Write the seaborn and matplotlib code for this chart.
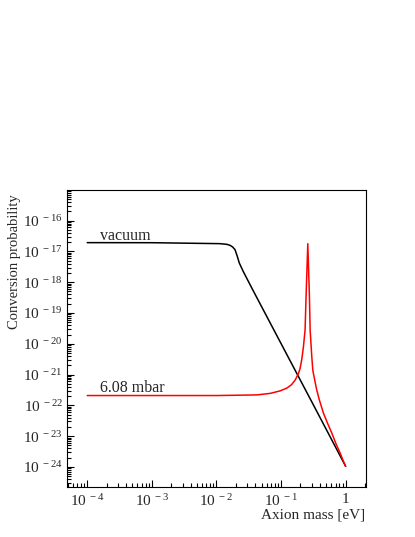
import numpy as np
import pandas as pd
import matplotlib
matplotlib.use("Agg")
import matplotlib.pyplot as plt
import matplotlib.ticker as mticker
import seaborn as sns

# ---- data ----
vac_mass = [1e-4, 1e-3, 0.0113, 0.0145, 0.0162, 0.0178, 0.0194, 0.021, 0.0226, 0.026,
            0.0351, 0.1, 0.3, 1.0]
vac_prob = [1.93e-17, 1.92e-17, 1.79e-17, 1.70e-17, 1.58e-17, 1.40e-17, 1.14e-17,
            7.0e-18, 4.2e-18, 2.24e-18, 6.6e-19, 1.02e-20, 1.29e-22, 1.05e-24]

gas_mass = [1e-4, 1e-3, 0.01, 0.042, 0.0675, 0.0964, 0.1225, 0.145, 0.165, 0.185,
            0.197, 0.2095, 0.222, 0.2355, 0.244, 0.2595, 0.275, 0.282, 0.299, 0.31,
            0.32, 0.328, 0.34, 0.357, 0.39, 0.453, 0.53, 0.611, 0.71, 0.822, 0.9, 1.0]
gas_prob = [2.09e-22, 2.09e-22, 2.09e-22, 2.19e-22, 2.45e-22, 2.95e-22, 3.63e-22,
            4.68e-22, 6.61e-22, 1.05e-21, 1.58e-21, 3.16e-21, 7.94e-21, 2.82e-20,
            3.47e-19, 1.78e-17, 3.47e-19, 2.82e-20, 3.89e-21, 1.41e-21,
            9.8e-22, 7.59e-22, 5.2e-22, 3.16e-22, 1.55e-22, 5.62e-23, 2.5e-23,
            1.26e-23, 5.6e-24, 2.82e-24, 1.75e-24, 1.05e-24]

series_labels = ["vacuum", "6.08 mbar"]
series_colors = ["#000000", "#ff0000"]
x_title = "Axion mass [eV]"
y_title = "Conversion probability"

sns.set_style("white")
plt.rcParams["font.family"] = ["Liberation Serif", "DejaVu Serif"]
plt.rcParams["mathtext.fontset"] = "custom"
plt.rcParams["mathtext.rm"] = "Liberation Serif"

fig = plt.figure(figsize=(4.15, 5.37), dpi=100)
ax = fig.add_axes([67 / 415, 1 - 487 / 537, (366 - 67) / 415, (487 - 190) / 537])

df_vac = pd.DataFrame({"m": vac_mass, "p": vac_prob})
df_gas = pd.DataFrame({"m": gas_mass, "p": gas_prob})
sns.lineplot(data=df_vac, x="m", y="p", ax=ax, color=series_colors[0], lw=1.1,
             estimator=None, sort=False)
sns.lineplot(data=df_gas, x="m", y="p", ax=ax, color=series_colors[1], lw=1.1,
             estimator=None, sort=False)

ax.set_xscale("log")
ax.set_yscale("log")
ax.set_xlim(10 ** -4.313, 10 ** 0.315)
ax.set_ylim(10 ** -24.65, 10 ** -15.005)
ax.set_xlabel("")
ax.set_ylabel("")

ax.xaxis.set_major_locator(mticker.LogLocator(base=10, numticks=30))
ax.xaxis.set_minor_locator(mticker.LogLocator(base=10, subs=np.arange(2, 10), numticks=30))
ax.yaxis.set_major_locator(mticker.LogLocator(base=10, numticks=30))
ax.yaxis.set_minor_locator(mticker.LogLocator(base=10, subs=np.arange(2, 10), numticks=30))


def fmt(v, pos):
    n = int(round(np.log10(v)))
    if n == 0:
        return "1"
    return r"$\mathregular{10^{\,%d}}$" % n


ax.xaxis.set_major_formatter(mticker.FuncFormatter(fmt))
ax.yaxis.set_major_formatter(mticker.FuncFormatter(fmt))
ax.xaxis.set_minor_formatter(mticker.NullFormatter())
ax.yaxis.set_minor_formatter(mticker.NullFormatter())

ax.tick_params(which="both", direction="in", top=False, right=False,
               bottom=True, left=True, width=0.8, color="black")
ax.tick_params(which="major", length=5, labelsize=11)
ax.tick_params(axis="y", which="major", pad=3)
ax.tick_params(axis="x", which="major", pad=4.5)
ax.tick_params(which="minor", length=3)
for s in ax.spines.values():
    s.set_visible(True)
    s.set_color("black")
    s.set_linewidth(0.8)

ax.text(1.56e-4, 2.41e-17, series_labels[0], fontsize=11.5, ha="left", va="baseline")
ax.text(1.56e-4, 2.75e-22, series_labels[1], fontsize=11.5, ha="left", va="baseline")

fig.text(15 / 415, 1 - 194 / 537, y_title, rotation=90, ha="center", va="top", fontsize=10.5)
fig.text(365 / 415, 1 - 515 / 537, x_title, ha="right", va="center", fontsize=11)

fig.savefig("out.png", dpi=100)
